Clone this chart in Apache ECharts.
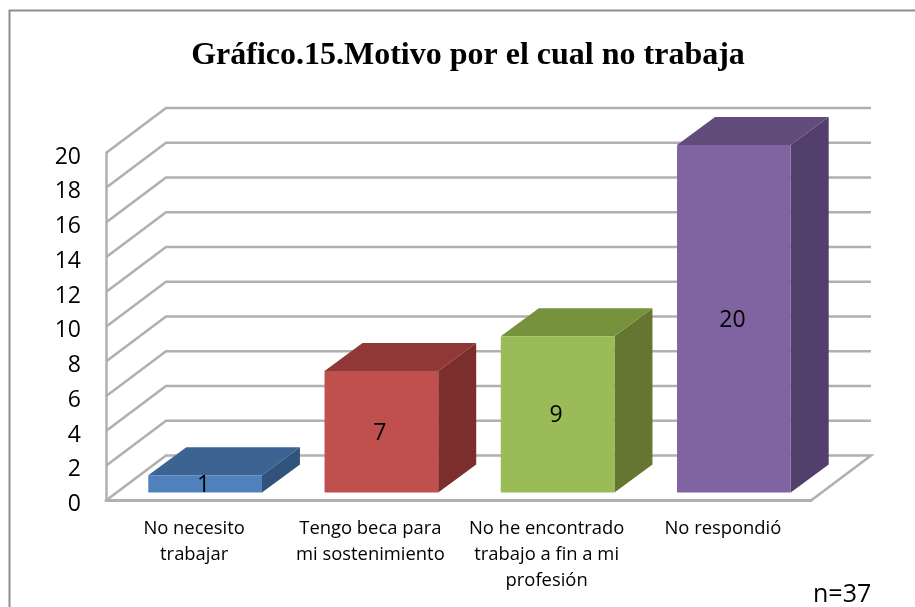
<!DOCTYPE html>
<html><head><meta charset="utf-8">
<style>html,body{margin:0;padding:0;background:#fff}#c{width:915px;height:607px}</style>
<script src="https://cdn.jsdelivr.net/npm/echarts@6/dist/echarts.min.js"></script>
</head><body><div id="c"></div>
<script>
const categories = ["No necesito\ntrabajar","Tengo beca para\nmi sostenimiento","No he encontrado\ntrabajo a fin a mi\nprofesión","No respondió"];
const values = [1,7,9,20];
const yTicks = [0,2,4,6,8,10,12,14,16,18,20];
const frontColors = ["#4f81bd","#c0504d","#9bbb59","#8064a2"];
const topColors = ["#3c6391","#8f3836","#76923c","#624c7c"];
const sideColors = ["#31527a","#7b2e2c","#64762f","#533f6b"];
const titleText = "Gráfico.15.Motivo por el cual no trabaja";
const noteText = "n=37";

const WALL = {dx:60, dy:-45};
const BAR = {dx:38, dy:-28, inX:11, inY:-8, width:0.645};
const GRID = "#b0b0b0";
const FONT = "Open Sans";

function renderGrid(params, api){
  const v = api.value(1);
  const p = api.coord([0, v]);
  const band = api.size([1,0])[0];
  const x0 = p[0]-band/2, x1 = x0 + band*categories.length, y = p[1];
  const pts = [[x0,y],[x0+WALL.dx,y+WALL.dy],[x1+WALL.dx,y+WALL.dy]];
  if (v === 0) pts.push([x1,y]);
  return {type:'polyline', shape:{points:pts}, style:{stroke:GRID, lineWidth:2.5, fill:null}, silent:true};
}
function renderBar(params, api){
  const i = api.value(0), v = api.value(1);
  const band = api.size([1,0])[0];
  const w = band*BAR.width;
  const t = api.coord([i,v]), b = api.coord([i,0]);
  const xl = t[0]-w/2+BAR.inX, xr = xl+w, yt = t[1]+BAR.inY, yb = b[1]+BAR.inY;
  const d = BAR.dx, e = BAR.dy;
  return {type:'group', children:[
    {type:'polygon', shape:{points:[[xr,yt],[xr+d,yt+e],[xr+d,yb+e],[xr,yb]]}, style:{fill:sideColors[i]}},
    {type:'polygon', shape:{points:[[xl,yt],[xl+d,yt+e],[xr+d,yt+e],[xr,yt]]}, style:{fill:topColors[i]}},
    {type:'rect', shape:{x:xl,y:yt,width:w,height:yb-yt}, style:{fill:frontColors[i]}},
    {type:'text', x:(xl+xr)/2-1.5, y:(yt+yb)/2+1.5, style:{text:String(v), fill:"#000", font:"23px '"+FONT+"'", textAlign:'center', textVerticalAlign:'middle'}}
  ]};
}
const chart = echarts.init(document.getElementById('c'), null, {renderer:'canvas'});
chart.setOption({
  animation:false,
  backgroundColor:"#fff",
  title:[
    {text:titleText, left:463, top:35, textAlign:'center', textStyle:{fontFamily:"Liberation Serif", fontWeight:'bold', fontSize:32, color:"#000"}},
    {text:noteText, left:808, top:577, textStyle:{fontFamily:FONT, fontWeight:'normal', fontSize:25, color:"#000"}}
  ],
  grid:{left:106, right:104, top:153, bottom:106.5},
  xAxis:{type:'category', data:categories,
    axisLine:{show:true, lineStyle:{color:GRID, width:3}}, axisTick:{show:false},
    axisLabel:{interval:0, margin:15, fontFamily:FONT, fontSize:18.4, lineHeight:26, color:"#000"}},
  yAxis:{type:'value', min:0, max:20, interval:2,
    axisLine:{show:true, lineStyle:{color:GRID, width:2.5}}, axisTick:{show:false}, splitLine:{show:false},
    axisLabel:{margin:25, verticalAlign:'top', lineHeight:8, fontFamily:FONT, fontSize:23, color:"#000"}},
  series:[
    {type:'custom', z:1, silent:true, renderItem:renderGrid, data:yTicks.map(v=>[0,v])},
    {type:'custom', z:3, silent:true, renderItem:renderBar, data:values.map((v,i)=>[i,v])}
  ],
  graphic:[{type:'rect', z:0, silent:true, shape:{x:9.5,y:10.5,width:1000,height:700}, style:{fill:null, stroke:"#8e8e8e", lineWidth:2}}]
});
</script></body></html>
